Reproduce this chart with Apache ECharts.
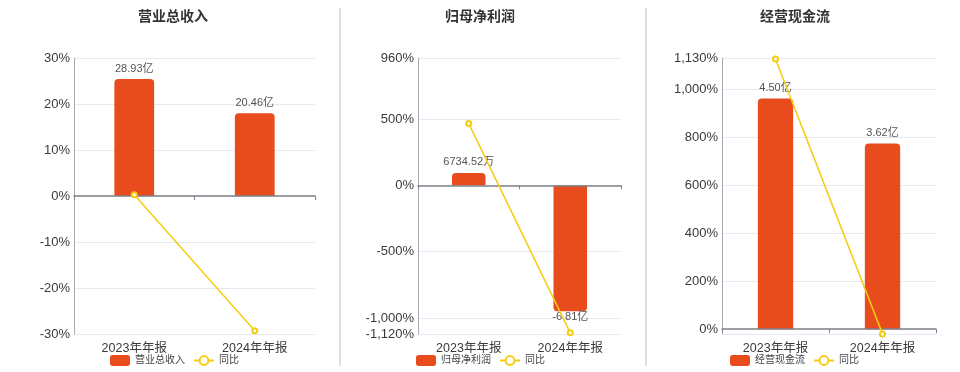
<!DOCTYPE html>
<html><head><meta charset="utf-8">
<script src="https://cdn.jsdelivr.net/npm/echarts@6/dist/echarts.min.js"></script>
<style>html,body{margin:0;padding:0;background:#fff}#c{width:960px;height:372px}</style>
</head><body><div id="c"></div>
<script>
// ---- data ----
const categories = ['2023年年报', '2024年年报'];
const titles = ['营业总收入', '归母净利润', '经营现金流'];
const yoyName = '同比';
const revenueValues = [28.93, 20.46];          // 亿
const revenueLabels = ['28.93亿', '20.46亿'];
const revenueYoy = [0.27, -29.28];              // %
const profitValues = [0.6735, -6.81];           // 亿
const profitLabels = ['6734.52万', '-6.81亿'];
const profitYoy = [466, -1111.2];
const cashValues = [4.50, 3.62];
const cashLabels = ['4.50亿', '3.62亿'];
const cashYoy = [1126, -19.56];

// ---- layout/style ----
const FONT = '"Liberation Sans", "Noto Sans CJK SC", sans-serif';
const BAR = '#E84B1C';
const LINE = '#F5CC0F';
const grids = [
  {left: 74, top: 58, width: 241, height: 276},
  {left: 418, top: 58, width: 203, height: 276},
  {left: 722, top: 58, width: 214, height: 276}
];
const yoyRanges = [[-30, 30, 10], [-1120, 960, null], [-20, 1130, null]];
const barRanges = [[-34.13, 34.13], [-8.034, 6.887], [-0.0936, 5.288]];
const titleCenters = [173, 480, 795];
const legendLefts = [110, 416, 730];
const panels = [
  {vals: revenueValues, labels: revenueLabels, yoy: revenueYoy},
  {vals: profitValues, labels: profitLabels, yoy: profitYoy},
  {vals: cashValues, labels: cashLabels, yoy: cashYoy}
];

function pct(v) { return Number(v).toLocaleString('en-US') + '%'; }

const option = {
  animation: false,
  backgroundColor: '#fff',
  textStyle: {fontFamily: FONT},
  title: [], legend: [], grid: [], xAxis: [], yAxis: [], series: [],
  graphic: [
    {type: 'line', shape: {x1: 340, y1: 8, x2: 340, y2: 366}, style: {stroke: '#d4d4d4', lineWidth: 1.5}},
    {type: 'line', shape: {x1: 646, y1: 8, x2: 646, y2: 366}, style: {stroke: '#d4d4d4', lineWidth: 1.5}}
  ]
};

panels.forEach((p, i) => {
  option.title.push({
    text: titles[i], left: titleCenters[i], top: 10, padding: 0, textAlign: 'center',
    textStyle: {fontSize: 14, fontWeight: 'bold', color: '#333', fontFamily: FONT}
  });
  option.legend.push({
    data: [titles[i], yoyName], left: legendLefts[i], top: 355, padding: 0,
    itemWidth: 20, itemHeight: 11, itemGap: 8,
    textStyle: {fontSize: 10, color: '#444', fontFamily: FONT}
  });
  option.grid.push(grids[i]);
  // bottom label axis
  option.xAxis.push({
    type: 'category', gridIndex: i, data: categories, position: 'bottom',
    axisLine: {show: false, onZero: false}, axisTick: {show: false},
    axisLabel: {fontSize: 12.5, color: '#3a3a3a', margin: 8, fontFamily: FONT},
    splitLine: {show: false}
  });
  // zero line axis
  option.xAxis.push({
    type: 'category', gridIndex: i, data: categories, position: 'top', z: 3,
    axisLine: {show: true, onZero: true, lineStyle: {color: '#7f8188', width: 1.5}},
    axisTick: {show: true, inside: true, length: 4, lineStyle: {color: '#7f8188'}},
    axisLabel: {show: false}, splitLine: {show: false}
  });
  const r = yoyRanges[i];
  const ya = {
    type: 'value', gridIndex: i, min: r[0], max: r[1],
    axisLine: {show: true, lineStyle: {color: '#a8abb3', width: 1}},
    axisTick: {show: false},
    axisLabel: {fontSize: 13, color: '#3a3a3a', margin: 4, formatter: pct, fontFamily: FONT, showMinLabel: i !== 2},
    splitLine: {show: true, lineStyle: {color: '#e6e9f2', width: 1}}
  };
  if (r[2]) ya.interval = r[2];
  option.yAxis.push(ya);
  option.yAxis.push({
    type: 'value', gridIndex: i, min: barRanges[i][0], max: barRanges[i][1], show: false,
    splitLine: {show: false}
  });
  option.series.push({
    name: titles[i], type: 'bar', xAxisIndex: i * 2, yAxisIndex: i * 2 + 1,
    barWidth: '33%',
    data: p.vals.map(v => ({value: v, itemStyle: {borderRadius: v >= 0 ? [4, 4, 0, 0] : [0, 0, 4, 4]},
      label: {position: v >= 0 ? 'top' : 'bottom', distance: v >= 0 ? 5 : 0}})),
    itemStyle: {color: BAR},
    label: {show: true, fontSize: 11, color: '#555', fontFamily: FONT,
      formatter: (d) => p.labels[d.dataIndex]}
  });
  option.series.push({
    name: yoyName, type: 'line', xAxisIndex: i * 2, yAxisIndex: i * 2, z: 4,
    data: p.yoy, symbol: 'emptyCircle', symbolSize: 5,
    lineStyle: {color: LINE, width: 1.5},
    itemStyle: {color: LINE, borderWidth: 1.5}
  });
});

const chart = echarts.init(document.getElementById('c'), null, {renderer: 'canvas'});
chart.setOption(option);
</script>
</body></html>
